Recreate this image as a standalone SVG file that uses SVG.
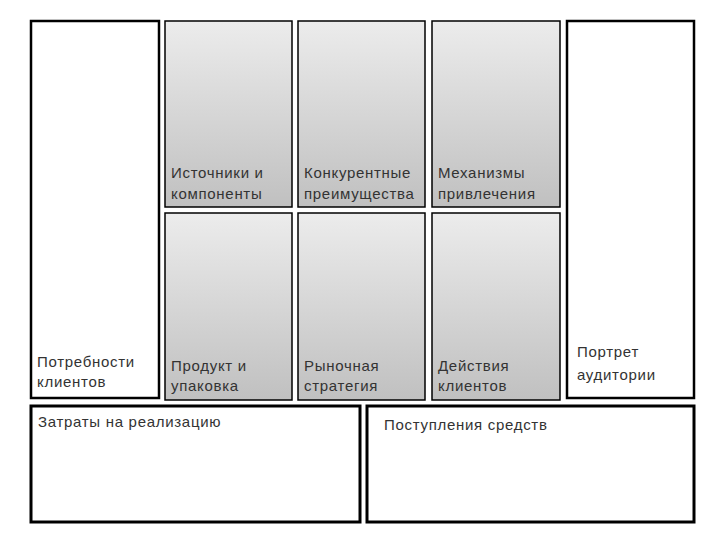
<svg xmlns="http://www.w3.org/2000/svg" width="720" height="540" viewBox="0 0 720 540">
<defs>
<linearGradient id="g" x1="0" y1="0" x2="0" y2="1">
<stop offset="0" stop-color="#ececec"/>
<stop offset="1" stop-color="#c0c0c0"/>
</linearGradient>
<style>
.w{fill:#fff;stroke:#000;stroke-width:2.5}
.b{fill:#fff;stroke:#000;stroke-width:3}
.gr{fill:url(#g);stroke:#000;stroke-width:1.5}
text{font-family:"Liberation Sans","Noto Sans",sans-serif;font-size:15px;fill:#333;letter-spacing:0.7px}
</style>
</defs>
<rect width="720" height="540" fill="#fff"/>
<g id="needs"><rect class="w" x="31" y="21" width="128" height="377"/><text x="37" y="367">Потребности</text><text x="37" y="387">клиентов</text></g>
<g id="sources"><rect class="gr" x="165" y="21" width="127" height="186"/><text x="171" y="178">Источники и</text><text x="171" y="199">компоненты</text></g>
<g id="advantages"><rect class="gr" x="298" y="21" width="127" height="186"/><text x="304" y="178">Конкурентные</text><text x="304" y="199">преимущества</text></g>
<g id="mechanisms"><rect class="gr" x="432" y="21" width="128" height="186"/><text x="438" y="178">Механизмы</text><text x="438" y="199">привлечения</text></g>
<g id="product"><rect class="gr" x="165" y="213" width="127" height="187"/><text x="171" y="371">Продукт и</text><text x="171" y="391">упаковка</text></g>
<g id="strategy"><rect class="gr" x="298" y="213" width="127" height="187"/><text x="304" y="371">Рыночная</text><text x="304" y="391">стратегия</text></g>
<g id="actions"><rect class="gr" x="432" y="213" width="128" height="187"/><text x="438" y="371">Действия</text><text x="438" y="391">клиентов</text></g>
<g id="portrait"><rect class="w" x="567" y="21" width="127" height="377"/><text x="577" y="357">Портрет</text><text x="577" y="380">аудитории</text></g>
<g id="costs"><rect class="b" x="31" y="406" width="329" height="116"/><text x="38" y="427">Затраты на реализацию</text></g>
<g id="revenue"><rect class="b" x="367" y="406" width="327" height="116"/><text x="384" y="430">Поступления средств</text></g>
<g id="connectors"/>
</svg>
